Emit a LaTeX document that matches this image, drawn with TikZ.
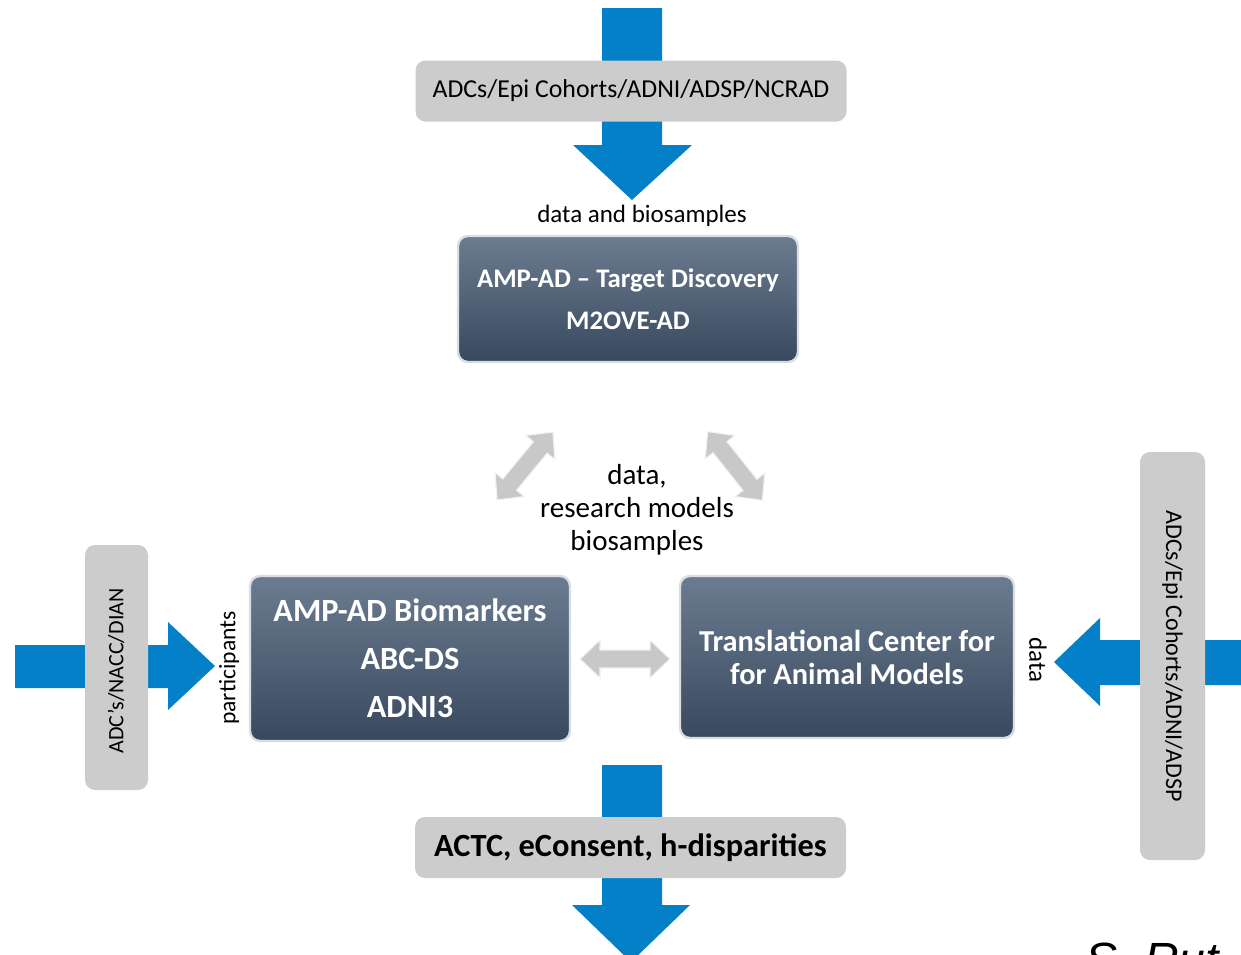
\documentclass[tikz,border=0pt]{standalone}
\usepackage{fontspec}
\setmainfont{Carlito}
\newfontfamily\signfont{Liberation Sans}
\usetikzlibrary{positioning}
\definecolor{flowblue}{RGB}{4,128,200}
\definecolor{panelgray}{RGB}{204,204,204}
\definecolor{boxtop}{RGB}{108,124,144}
\definecolor{boxbottom}{RGB}{56,72,94}
\definecolor{linkgray}{RGB}{200,200,200}
\tikzset{panel/.style={fill=panelgray, rounded corners=5pt, inner sep=0pt}}
\tikzset{block/.style={top color=boxtop, bottom color=boxbottom, draw=white!75!boxtop, line width=1.2pt, rounded corners=5pt, text=white, align=center, inner sep=0pt}}
\tikzset{flow/.style={fill=flowblue}}
\tikzset{link/.style={fill=linkgray, draw=white!90!gray, line width=0.6pt}}
\tikzset{caption/.style={inner sep=0pt, align=center}}

% two headed grey arrow: centre, angle, half length
\newcommand{\linkarrow}[3]{%
	\begin{scope}[shift={#1}, rotate=#2]
		\path[link] ({-#3},0) -- ({-#3+20},19) -- ({-#3+20},9) -- ({#3-20},9) -- ({#3-20},19) -- ({#3},0)
			-- ({#3-20},-19) -- ({#3-20},-9) -- ({-#3+20},-9) -- ({-#3+20},-19) -- cycle;
	\end{scope}}

\begin{document}
\begin{tikzpicture}[x=0.5pt, y=-0.5pt]
	\useasboundingbox (0,0) rectangle (1241,954);
	\clip (0,0) rectangle (1241,954);

	% TOP
	\coordinate (top tail) at (632,8);		\coordinate (top tip) at (632,200);
	\fill[flow] (602,8) -- (662,8) -- (662,145) -- (692,145) -- (top tip) -- (573,145) -- (602,145) -- cycle;
	\node[panel, minimum width=215.5pt, minimum height=30.5pt, font=\fontsize{12.9}{14}\selectfont] (cohorts) at (631,91) {ADCs/Epi Cohorts/ADNI/ADSP/NCRAD};
	\node[caption, font=\fontsize{12.5}{14}\selectfont] (samples) at (642,216) {data and biosamples};
	\node[block, minimum width=170pt, minimum height=63pt, font=\bfseries\fontsize{13.4}{21}\selectfont] (discovery) at (628,299) {AMP-AD -- Target Discovery\\M2OVE-AD};

	% MIDDLE
	\node[caption, font=\fontsize{14.5}{16.5}\selectfont] (exchange) at (637,510) {data,\\research models\\biosamples};
	\linkarrow{(525,466)}{50.5}{44}
	\linkarrow{(735,466)}{-51.5}{44}
	\linkarrow{(625,659)}{0}{45}

	% LEFT
	\coordinate (left tip) at (215,666);
	\fill[flow] (15,645) -- (168,645) -- (168,622) -- (left tip) -- (168,710) -- (168,688) -- (15,688) -- cycle;
	\node[panel, minimum width=31.5pt, minimum height=122.5pt] (centres) at (116.5,667.5) {};
	\node[caption, rotate=90, font=\fontsize{11}{13}\selectfont] at (116,671) {ADC's/NACC/DIAN};
	\node[caption, rotate=90, font=\fontsize{11.8}{14}\selectfont] (participants) at (229,668) {participants};
	\node[block, minimum width=160pt, minimum height=82.5pt, font=\bfseries\fontsize{16.2}{24}\selectfont] (biomarkers) at (410,658.5) {AMP-AD Biomarkers\\ABC-DS\\ADNI3};

	% RIGHT
	\coordinate (right tip) at (1054,662);
	\fill[flow] (1241,640) -- (1100,640) -- (1100,618) -- (right tip) -- (1100,706) -- (1100,685) -- (1241,685) -- cycle;
	\node[panel, minimum width=32.5pt, minimum height=204pt] (epi) at (1172.5,656) {};
	\node[caption, rotate=-90, font=\fontsize{12}{14}\selectfont] at (epi) {ADCs/Epi Cohorts/ADNI/ADSP};
	\node[caption, rotate=-90, font=\fontsize{12.5}{14}\selectfont] (data) at (1038,660) {data};
	\node[block, minimum width=167pt, minimum height=81pt, font=\bfseries\fontsize{15.2}{16.5}\selectfont] (animal) at (847,657) {Translational Center for\\for Animal Models};

	% BOTTOM
	\coordinate (bottom tip) at (631,962);
	\fill[flow] (602,765) -- (662,765) -- (662,905) -- (690,905) -- (bottom tip) -- (572,905) -- (602,905) -- cycle;
	\node[panel, minimum width=215.5pt, minimum height=30.5pt, font=\bfseries\fontsize{16.2}{18}\selectfont] (trials) at (630.5,847.5) {ACTC, eConsent, h-disparities};

	% signature, cut by the page
	\node[anchor=base west, inner sep=0pt, font=\signfont\itshape\fontsize{24}{26}\selectfont] (sign) at (1085,976) {S. Rut};
\end{tikzpicture}
\end{document}
